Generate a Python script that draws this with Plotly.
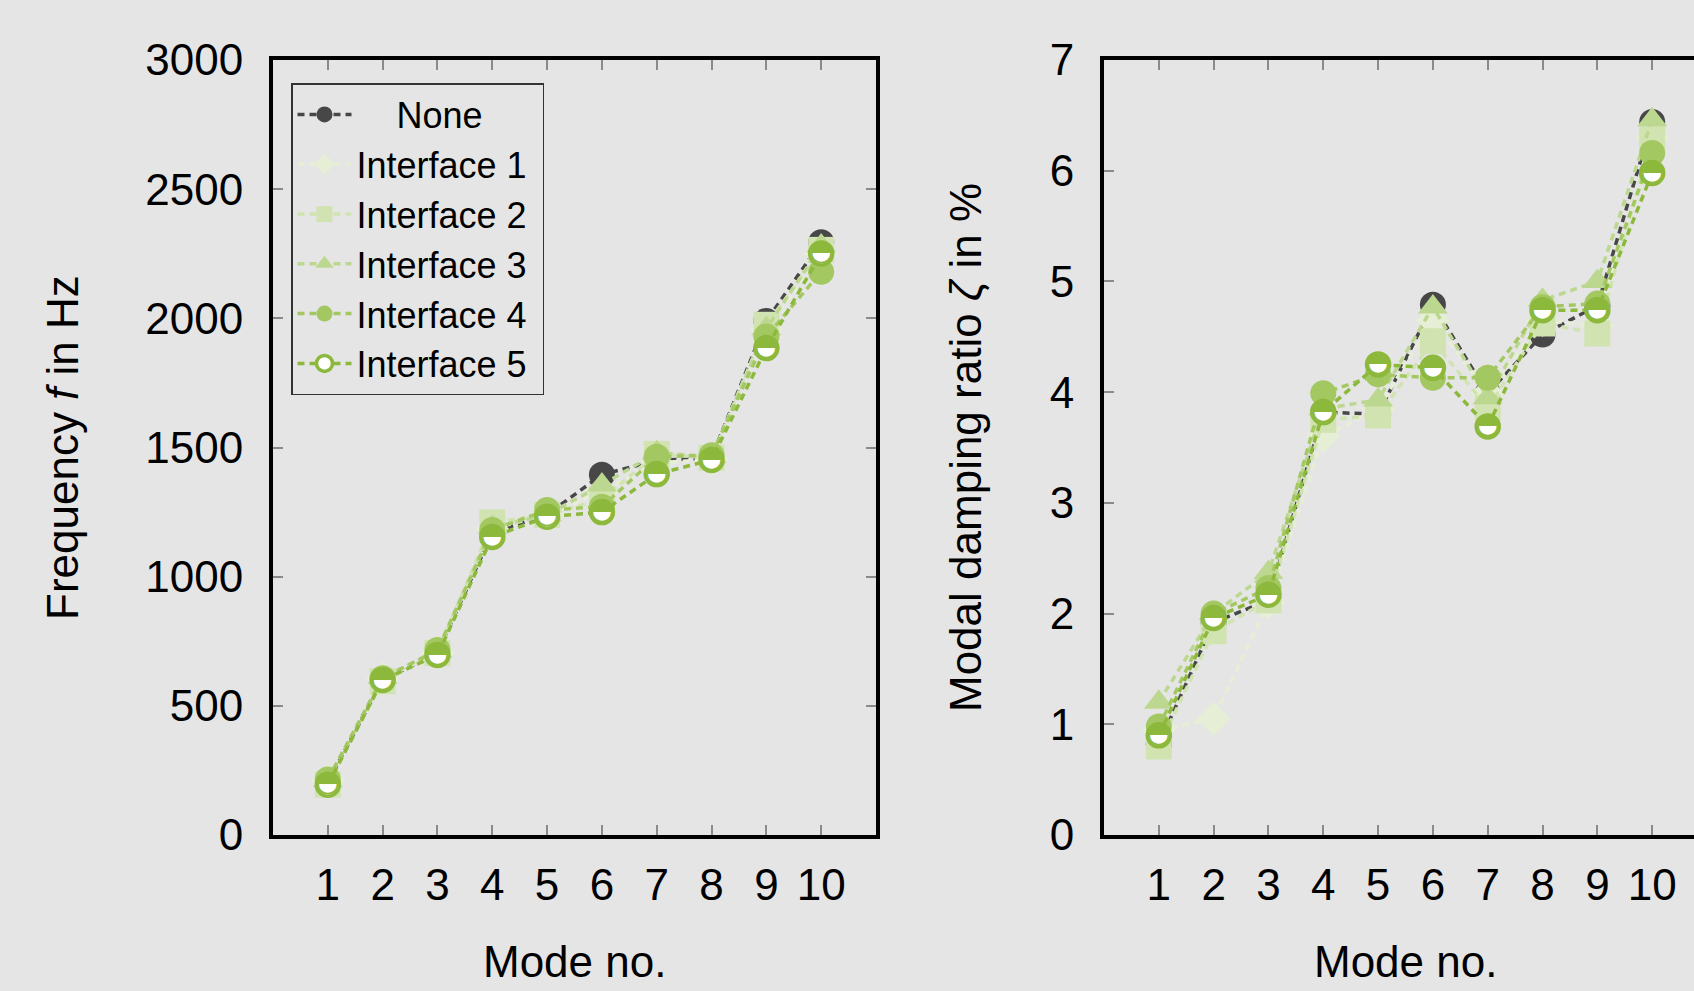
import plotly.graph_objects as go

# ---------------- data ----------------
modes = [1, 2, 3, 4, 5, 6, 7, 8, 9, 10]
x_tick_labels = ["1", "2", "3", "4", "5", "6", "7", "8", "9", "10"]
series_names = ["\u00a0\u00a0\u00a0\u00a0None", "Interface 1\u00a0", "Interface 2\u00a0",
                "Interface 3\u00a0", "Interface 4\u00a0", "Interface 5\u00a0"]

# Frequency f in Hz
freq_none = [205, 600, 705, 1170, 1240, 1395, 1450, 1460, 1990, 2295]
freq_if1 = [210, 605, 705, 1185, 1240, 1330, 1440, 1455, 1960, 2250]
freq_if2 = [195, 595, 704, 1210, 1239, 1300, 1475, 1460, 1975, 2265]
freq_if3 = [210, 610, 712, 1190, 1240, 1355, 1480, 1465, 1960, 2280]
freq_if4 = [215, 607, 716, 1181, 1258, 1271, 1464, 1470, 1930, 2180]
freq_if5 = [195, 600, 697, 1154, 1232, 1250, 1397, 1452, 1885, 2251]

# Modal damping ratio in %
damp_none = [0.82, 1.92, 2.12, 3.82, 3.80, 4.79, 3.99, 4.52, 4.78, 6.44]
damp_if1 = [0.95, 1.05, 2.10, 3.60, 3.85, 4.65, 3.99, 4.65, 4.60, 6.30]
damp_if2 = [0.80, 1.84, 2.12, 3.75, 3.79, 4.46, 3.86, 4.62, 4.53, 6.30]
damp_if3 = [1.20, 2.00, 2.37, 3.85, 3.93, 4.77, 3.95, 4.83, 5.00, 6.46]
damp_if4 = [0.98, 2.00, 2.23, 3.99, 4.16, 4.13, 4.13, 4.77, 4.80, 6.16]
damp_if5 = [0.90, 1.96, 2.17, 3.82, 4.25, 4.22, 3.69, 4.74, 4.74, 5.98]

freq_ticks = [0, 500, 1000, 1500, 2000, 2500, 3000]
damp_ticks = [0, 1, 2, 3, 4, 5, 6, 7]

# ---------------- styles ----------------
colors = ["#474747", "#e6efd6", "#d1e3b0", "#bcd78f", "#a3c862", "#8cb83c"]
symbols = ["circle", "diamond", "square", "triangle-up", "circle", "circle"]
FONT = "Liberation Sans, Arial, Helvetica, sans-serif"
BG = "#e5e5e5"

freq_series = [freq_none, freq_if1, freq_if2, freq_if3, freq_if4, freq_if5]
damp_series = [damp_none, damp_if1, damp_if2, damp_if3, damp_if4, damp_if5]

fig = go.Figure()

for col, (axx, axy, data) in enumerate([("x", "y", freq_series), ("x2", "y2", damp_series)]):
    for i, name in enumerate(series_names):
        last = i == len(series_names) - 1
        marker = dict(symbol=symbols[i], size=26, color=colors[i], line=dict(width=0))
        if last:
            marker = dict(symbol="circle", size=23, color="white",
                          line=dict(width=3.5, color=colors[i]))
        fig.add_trace(go.Scatter(
            x=modes, y=data[i], name=name, xaxis=axx, yaxis=axy,
            mode="lines+markers",
            line=dict(color=colors[i], width=3.5, dash="7px,5px"),
            marker=marker,
            showlegend=(col == 0), legendgroup=name,
        ))
        if last:
            # upper half filled
            fig.add_trace(go.Scatter(
                x=modes, y=data[i], xaxis=axx, yaxis=axy, mode="text",
                text=["\u25D3"] * len(modes), textposition="middle center",
                textfont=dict(family="DejaVu Sans", size=27, color=colors[i]),
                showlegend=False, hoverinfo="skip", legendgroup=name,
            ))

W, H = 1694, 991
x1d = [273 / W, 876 / W]
x2d = [1104 / W, 1.0]
yd = [1 - 835 / H, 1 - 60 / H]

axis_common = dict(
    showline=True, linecolor="black", linewidth=4,
    ticks="inside", ticklen=10, tickwidth=1.5, tickcolor="#8a8a8a",
    showgrid=False, zeroline=False, automargin=False,
    tickfont=dict(family=FONT, size=44, color="black"),
)

fig.update_layout(
    width=W, height=H, autosize=False,
    margin=dict(l=0, r=0, t=0, b=0, autoexpand=False),
    paper_bgcolor=BG, plot_bgcolor=BG,
    font=dict(family=FONT, color="black"),
    xaxis=dict(domain=x1d, range=[0, 11], tickvals=modes, ticktext=x_tick_labels,
               mirror="ticks", anchor="y", ticklabelstandoff=8, **axis_common),
    yaxis=dict(domain=yd, range=[0, 3000], tickvals=freq_ticks,
               mirror="ticks", anchor="x", ticklabelstandoff=17, **axis_common),
    xaxis2=dict(domain=x2d, range=[0, 11 * (W - 1104) / 603], tickvals=modes,
                ticktext=x_tick_labels, mirror="ticks", anchor="y2",
                ticklabelstandoff=8, **axis_common),
    yaxis2=dict(domain=yd, range=[0, 7], tickvals=damp_ticks,
                mirror=False, anchor="x2", ticklabelstandoff=17, **axis_common),
    legend=dict(
        x=291 / W, y=1 - 83 / H, xanchor="left", yanchor="top",
        bgcolor=BG, bordercolor="#333333", borderwidth=1.5,
        font=dict(family=FONT, size=36, color="black"),
        itemwidth=54, tracegroupgap=0,
    ),
    showlegend=True,
    annotations=[
        dict(text="Frequency <i>f</i> in Hz", x=62 / W, y=1 - 448 / H, xref="paper", yref="paper",
             textangle=-90, showarrow=False, font=dict(family=FONT, size=44),
             xanchor="center", yanchor="middle"),
        dict(text="Modal damping ratio <i>ζ</i> in %", x=965 / W, y=1 - 448 / H, xref="paper",
             yref="paper", textangle=-90, showarrow=False, font=dict(family=FONT, size=44),
             xanchor="center", yanchor="middle"),
        dict(text="Mode no.", x=574 / W, y=1 - 961 / H, xref="paper", yref="paper",
             showarrow=False, font=dict(family=FONT, size=44), xanchor="center", yanchor="middle"),
        dict(text="Mode no.", x=1405 / W, y=1 - 961 / H, xref="paper", yref="paper",
             showarrow=False, font=dict(family=FONT, size=44), xanchor="center", yanchor="middle"),
    ],
)

fig.write_html("out.html")
